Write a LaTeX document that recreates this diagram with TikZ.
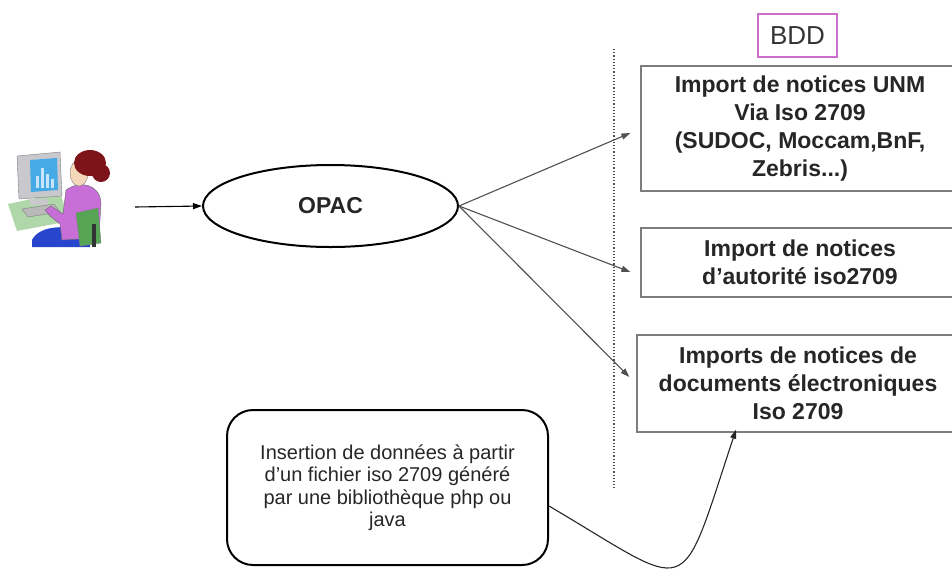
\documentclass[tikz,border=0pt]{standalone}
\usepackage{fontspec}
\setmainfont{Liberation Sans}
\usetikzlibrary{shapes.geometric,arrows.meta}

\definecolor{boxgray}{RGB}{125,125,125}
\definecolor{linegray}{RGB}{80,80,80}
\definecolor{bddpink}{RGB}{205,110,205}
\definecolor{deskgreen}{RGB}{175,215,170}
\definecolor{chairgreen}{RGB}{85,165,85}
\definecolor{screenblue}{RGB}{70,170,230}
\definecolor{monitorgray}{RGB}{200,200,205}
\definecolor{bodypurple}{RGB}{200,110,215}
\definecolor{legblue}{RGB}{40,70,205}
\definecolor{skin}{RGB}{245,215,185}
\definecolor{hair}{RGB}{125,20,25}

\begin{document}
\begin{tikzpicture}[x=1pt,y=-1pt,
    importbox/.style={draw=boxgray, line width=1.3pt, minimum width=318pt,
      align=center, text=black!85, font=\fontsize{23}{28}\selectfont\bfseries},
    flow/.style={draw=linegray, line width=1.1pt, -{Triangle[length=9pt,width=6pt]}}]

    % Drawing the frame
    \useasboundingbox (0,0) rectangle (952,571);
    \clip (0,0) rectangle (952,571);

    % Drawing the user at the computer
    \fill[deskgreen] (8,204) -- (60,193) -- (70,221) -- (17,231) -- cycle;
    \fill[monitorgray, draw=gray] (17,156) -- (60,152) -- (62,196) -- (19,199) -- cycle;
    \fill[screenblue] (30,160) -- (57,158) -- (58,190) -- (31,192) -- cycle;
    \foreach \x/\h in {36/12, 41/20, 46/14, 51/9}
        \fill[white!70!screenblue] (\x,188) rectangle (\x+2.5,188-\h);
    \fill[monitorgray] (30,199) rectangle (48,205);
    \fill[gray!55, draw=gray] (22,209) -- (54,204) -- (60,212) -- (28,217) -- cycle;
    \fill[legblue] (32,240) .. controls (40,224) and (70,225) .. (90,232) -- (90,247) -- (32,247) -- cycle;
    \fill[bodypurple, draw=black!60] (66,190) .. controls (80,180) and (99,184) .. (101,202)
        -- (99,238) -- (62,240) -- (60,224) -- (50,216) -- (45,210) -- (51,206) -- (63,214) -- cycle;
    \fill[chairgreen, draw=black!50] (76,213) -- (98,208) -- (101,243) -- (80,246) -- cycle;
    \fill[gray!40!black] (92,224) rectangle (96,247);
    \fill[skin, draw=black!50] (79,173) ellipse (9 and 13);
    \fill[hair] (90,163) ellipse (16 and 13);
    \fill[hair] (101,173) circle (9);

    % Drawing the OPAC and the boxes
    \coordinate (user) at (135,207);
    \node[draw, ellipse, line width=2pt, minimum width=255pt, minimum height=82pt,
        font=\fontsize{23}{28}\selectfont\bfseries, text=black!85] (opac) at (330.5,206) {OPAC};
    \node[draw=bddpink, line width=1.1pt, minimum width=79pt, minimum height=43pt,
        font=\fontsize{26}{30}\selectfont, text=black!80] (bdd) at (797.5,35.5) {BDD};
    \node[importbox, minimum height=125pt] (unm) at (800,128.5)
        {Import de notices UNM\\Via Iso 2709\\(SUDOC, Moccam,BnF,\\Zebris...)};
    \node[importbox, minimum height=69pt] (autorite) at (800,262.5)
        {Import de notices\\d’autorité iso2709};
    \node[importbox, minimum height=97pt, minimum width=322pt] (elec) at (798,383.5)
        {Imports de notices de\\documents électroniques\\Iso 2709};
    \node[draw, line width=2pt, rounded corners=26pt, minimum width=321pt, minimum height=155pt,
        align=center, font=\fontsize{20}{22.5}\selectfont, text=black!85] (insertion) at (387.5,487.5)
        {Insertion de données à partir\\d’un fichier iso 2709 généré\\par une bibliothèque php ou\\java};

    % Drawing the separation line
    \draw[dotted, line width=1.2pt, black!70] (614,49) -- (614,488);

    % Drawing the arrows
    \draw[flow, draw=black] (user) -- (opac.west);
    \draw[flow] (opac.east) -- ([xshift=-10pt,yshift=-4.5pt]unm.west);
    \draw[flow] (opac.east) -- ([xshift=-10pt,yshift=-9.5pt]autorite.west);
    \draw[flow] (opac.east) -- ([xshift=-7pt,yshift=6.5pt]elec.west);
    \draw[flow, draw=black!85] ([yshift=-18.5pt]insertion.east)
        .. controls (695,592) and (678,605) .. ([xshift=-62pt,yshift=3pt]elec.south);

\end{tikzpicture}
\end{document}
